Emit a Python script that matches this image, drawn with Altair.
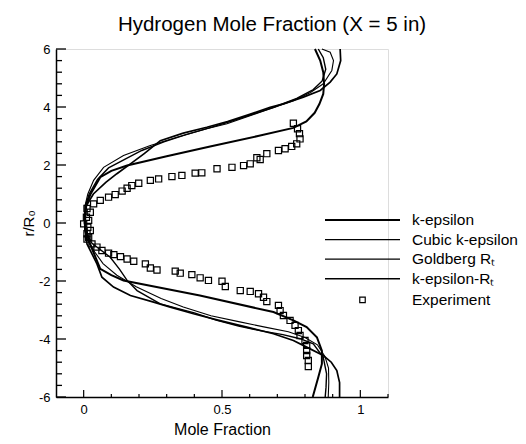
import altair as alt
import pandas as pd
import numpy as np

# ---------------- data ----------------
SERIES = ["k-epsilon", "Cubic k-epsilon", "Goldberg Rₜ", "k-epsilon-Rₜ"]

KE_R = [6.0, 5.6, 5.2, 4.8, 4.45, 4.1, 3.8, 3.5, 3.28, 3.0, 2.64, 2.3, 1.98, 1.8, 1.58, 1.0, 0.6, 0.0,
        -0.6, -1.0, -1.58, -1.8, -1.98, -2.5, -3.07, -3.36, -3.59, -3.94, -4.4, -4.86, -5.32, -6.0]
KE_V = [0.836, 0.855, 0.866, 0.869, 0.866, 0.852, 0.835, 0.805, 0.758, 0.63, 0.457, 0.30, 0.157, 0.10, 0.06, 0.025, 0.008, 0.004,
        0.018, 0.035, 0.06, 0.10, 0.144, 0.42, 0.686, 0.758, 0.806, 0.843, 0.861, 0.861, 0.848, 0.828]

CU_R = [6.0, 5.6, 5.14, 4.86, 4.57, 4.34, 4.11, 3.99, 3.75, 3.5, 3.3, 3.1, 2.84, 2.4, 2.04, 1.7, 1.4, 1.0, 0.6, 0.0,
        -0.72, -1.41, -1.87, -2.21, -2.5, -2.73, -2.9, -3.13, -3.34, -3.59, -3.82, -4.05, -4.28, -4.57, -4.8, -5.09, -5.5, -6.0]
CU_V = [0.927, 0.929, 0.915, 0.891, 0.855, 0.794, 0.722, 0.674, 0.60, 0.52, 0.445, 0.36, 0.277, 0.22, 0.169, 0.12, 0.08, 0.035, 0.01, 0.003,
        0.012, 0.048, 0.066, 0.108, 0.169, 0.253, 0.313, 0.397, 0.482, 0.59, 0.686, 0.758, 0.806, 0.866, 0.895, 0.915, 0.925, 0.925]

GO_R = [6.0, 5.7, 5.3, 4.9, 4.6, 4.3, 4.0, 3.75, 3.5, 3.3, 3.05, 2.8, 2.5, 2.2, 1.9, 1.5, 1.0, 0.6, 0.0,
        -0.3, -0.7, -1.18, -1.6, -1.98, -2.33, -2.79, -3.1, -3.36, -3.55, -3.71, -3.85, -3.99, -4.17, -4.63, -5.2, -5.66, -6.0]
GO_V = [0.848, 0.866, 0.875, 0.862, 0.83, 0.77, 0.69, 0.61, 0.53, 0.46, 0.37, 0.29, 0.21, 0.15, 0.09, 0.05, 0.02, 0.006, 0.004,
        0.008, 0.03, 0.096, 0.13, 0.157, 0.193, 0.277, 0.40, 0.482, 0.56, 0.638, 0.72, 0.782, 0.83, 0.866, 0.878, 0.876, 0.873]

KR_R = [6.0, 5.89, 5.6, 5.26, 4.8, 4.5, 4.22, 3.82, 3.42, 3.25, 2.96, 2.67, 2.33, 1.92, 1.47, 1.0, 0.6, 0.0,
        -0.3, -0.6, -1.0, -1.4, -1.8, -2.2, -2.6, -2.9, -3.2, -3.4, -3.6, -3.75, -3.95, -4.2, -4.6, -5.0, -5.5, -6.0]
KR_V = [0.861, 0.891, 0.903, 0.897, 0.866, 0.82, 0.758, 0.638, 0.518, 0.445, 0.337, 0.241, 0.144, 0.072, 0.036, 0.015, 0.005, 0.003,
        0.005, 0.015, 0.04, 0.07, 0.12, 0.19, 0.28, 0.36, 0.46, 0.56, 0.66, 0.74, 0.80, 0.845, 0.872, 0.885, 0.886, 0.884]

EXP_V = [0.012, 0.024, 0.01, 0.018, 0.0, 0.015, 0.024, 0.018,
         0.036, 0.060, 0.090, 0.114, 0.139, 0.157, 0.174, 0.199, 0.241, 0.271, 0.319, 0.355, 0.403, 0.427,
         0.482, 0.536, 0.578, 0.602, 0.626, 0.638, 0.662, 0.704, 0.728, 0.752, 0.770, 0.782, 0.780, 0.773, 0.758,
         0.012, 0.012, 0.030, 0.048, 0.066, 0.090, 0.109, 0.133, 0.157, 0.181, 0.223, 0.241, 0.265, 0.331, 0.349,
         0.391, 0.421, 0.451, 0.500, 0.512, 0.566, 0.602, 0.632, 0.650, 0.662, 0.704, 0.710, 0.722, 0.746, 0.764,
         0.776, 0.782, 0.800, 0.806, 0.806, 0.806, 0.812, 0.812]
EXP_R = [0.50, 0.37, 0.20, 0.09, -0.03, -0.15, -0.26, -0.49,
         0.66, 0.78, 0.89, 0.98, 1.10, 1.20, 1.29, 1.37, 1.47, 1.52, 1.60, 1.64, 1.72, 1.73,
         1.87, 1.92, 1.98, 2.04, 2.25, 2.19, 2.39, 2.50, 2.56, 2.64, 2.73, 2.90, 3.08, 3.25, 3.44,
         -0.37, -0.55, -0.72, -0.83, -0.95, -1.04, -1.09, -1.16, -1.24, -1.32, -1.41, -1.55, -1.62, -1.66, -1.73,
         -1.78, -1.89, -1.98, -2.01, -2.19, -2.33, -2.36, -2.44, -2.56, -2.71, -2.84, -3.02, -3.19, -3.36, -3.53,
         -3.71, -3.88, -4.05, -4.22, -4.40, -4.57, -4.74, -4.95]

X_LABELS = [0, 0.5, 1]
Y_LABELS = [-6, -4, -2, 0, 2, 4, 6]

# ---------------- build tables ----------------
rows = []
for name, rr, vv in zip(SERIES, [KE_R, CU_R, GO_R, KR_R], [KE_V, CU_V, GO_V, KR_V]):
    for r, v in zip(rr, vv):
        rows.append({"series": name, "r": r, "v": v})
lines_df = pd.DataFrame(rows)
exp_df = pd.DataFrame({"v": EXP_V, "r": EXP_R})

W, H = 332, 348
FONT = "Liberation Sans"
xscale = alt.Scale(domain=[-0.1, 1.1], nice=False, zero=False)
yscale = alt.Scale(domain=[-6, 6], nice=False, zero=False)
XT = "Mole Fraction"
YT = "r/R₀"

xaxis = alt.Axis(values=X_LABELS, labelExpr="'' + datum.value", ticks=False, grid=False,
                 domainColor="black", domainWidth=1.5, labelFont=FONT, labelFontSize=13,
                 labelColor="black", labelPadding=6, titleFont=FONT, titleFontSize=16,
                 titleFontWeight="normal", titleColor="black", titlePadding=5)
yaxis = alt.Axis(values=Y_LABELS, labelExpr="'' + datum.value", ticks=False, grid=False,
                 domainColor="black", domainWidth=1.5, labelFont=FONT, labelFontSize=13,
                 labelColor="black", labelPadding=6, titleFont=FONT, titleFontSize=15,
                 titleFontWeight="normal", titleColor="black", titlePadding=2)

def X(field):
    return alt.X(field, scale=xscale, axis=xaxis, title=XT)

def Y(field):
    return alt.Y(field, scale=yscale, axis=yaxis, title=YT)

lines = alt.Chart(lines_df).mark_line(color="black").encode(
    x=X("v:Q"), y=Y("r:Q"),
    detail="series:N",
    order="r:Q",
    strokeWidth=alt.StrokeWidth("series:N", scale=alt.Scale(domain=SERIES, range=[2.0, 1.1, 1.2, 1.5]), legend=None),
)

points = alt.Chart(exp_df).mark_point(shape="square", filled=False, size=38, color="black",
                                      strokeWidth=1.2, opacity=1).encode(x=X("v:Q"), y=Y("r:Q"))

# inward ticks
y_major = pd.DataFrame({"t": Y_LABELS})
y_minor = pd.DataFrame({"t": [t for t in np.round(np.arange(-6, 6.01, 0.4), 2) if abs(t % 2) > 1e-6 and abs(t % 2 - 2) > 1e-6]})
x_major = pd.DataFrame({"t": X_LABELS})
x_minor = pd.DataFrame({"t": [t for t in np.round(np.arange(0, 1.11, 0.1), 2) if t not in (0, 0.5, 1.0)]})

def ytick(df, length):
    return alt.Chart(df).mark_rule(color="black", strokeWidth=1.3).encode(
        y=Y("t:Q"), x=alt.value(0), x2=alt.value(length))

def xtick(df, length):
    return alt.Chart(df).mark_rule(color="black", strokeWidth=1.2).encode(
        x=X("t:Q"), y=alt.value(H), y2=alt.value(H - length))

ticks = [ytick(y_major, 10), ytick(y_minor, 6), xtick(x_major, 7), xtick(x_minor, 3)]

# legend (drawn by hand, as in the reference)
one = pd.DataFrame({"a": [0]})
LEG_LABELS = SERIES + ["Experiment"]
LEG_W = [2.2, 1.1, 1.2, 1.6]
leg_y0, leg_dy = 171, 19.6
LX1, LX2, TX = 269, 344, 356
legend = []
for i, lab in enumerate(LEG_LABELS):
    ly = leg_y0 + i * leg_dy + (1.5 if i == 4 else 0)
    if i < 4:
        legend.append(alt.Chart(one).mark_rule(color="black", strokeWidth=LEG_W[i]).encode(
            x=alt.value(LX1), x2=alt.value(LX2), y=alt.value(ly)))
    else:
        legend.append(alt.Chart(one).mark_point(shape="square", filled=False, size=30, color="black",
                                                strokeWidth=1.2, opacity=1).encode(
            x=alt.value((LX1 + LX2) / 2), y=alt.value(ly)))
    legend.append(alt.Chart(one).mark_text(align="left", baseline="middle", font=FONT, fontSize=15.5,
                                           color="black").encode(
        x=alt.value(TX), y=alt.value(ly), text=alt.value(lab)))

chart = alt.layer(lines, points, *ticks, *legend).properties(
    width=W, height=H,
    title=alt.TitleParams("Hydrogen Mole Fraction (X = 5 in)", font=FONT, fontSize=20.5,
                          fontWeight="normal", color="black", anchor="middle", frame="group",
                          dx=50, offset=8),
    autosize=alt.AutoSizeParams(type="none"),
    padding={"left": 48, "top": 41, "right": 130, "bottom": 47},
).configure_view(stroke=None).configure(background="white")

chart.save("out.html", embed_options={"renderer": "svg", "actions": False})
